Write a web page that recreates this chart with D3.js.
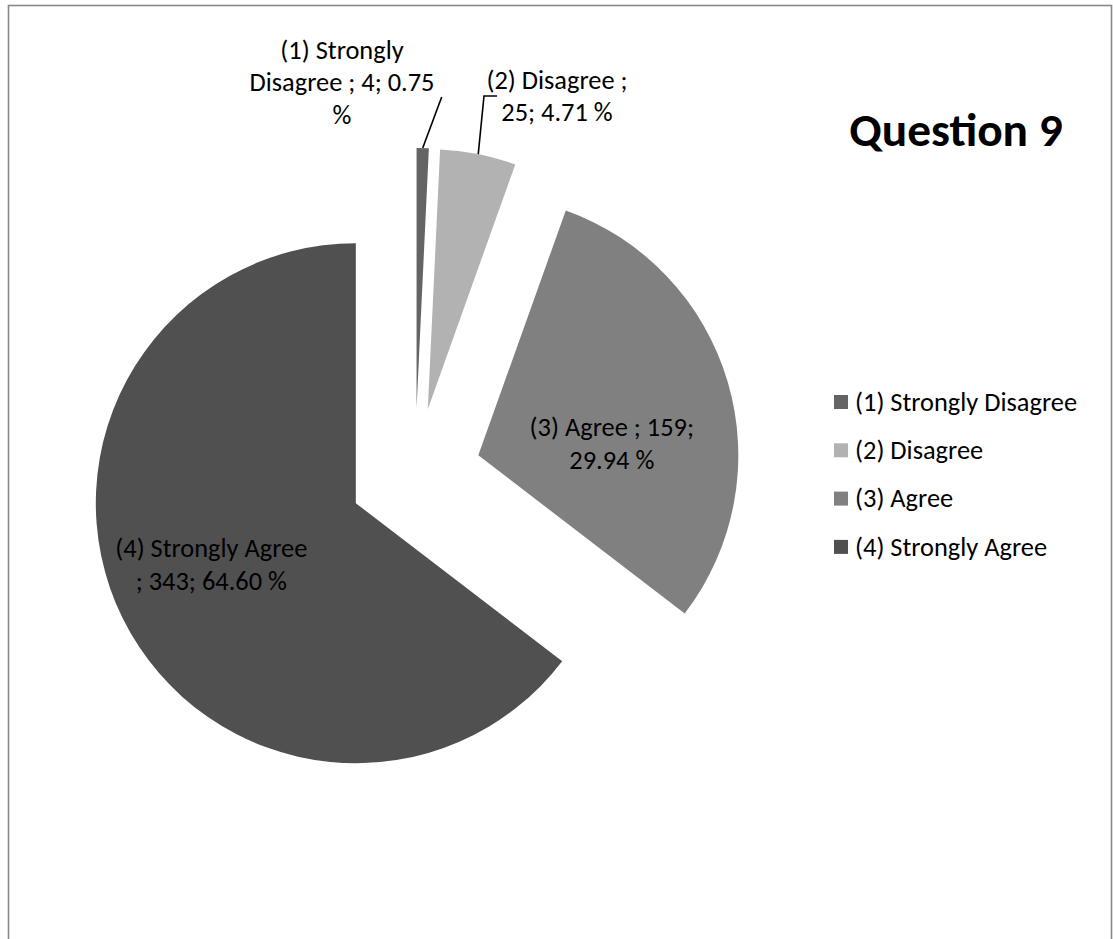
<!DOCTYPE html>
<html>
<head>
<meta charset="utf-8">
<script src="https://cdn.jsdelivr.net/npm/d3@7"></script>
<style>
  html, body { margin: 0; padding: 0; background: #fff; }
  svg { display: block; }
  text { font-family: Carlito, Lato, "Liberation Sans", sans-serif; fill: #000; }
</style>
</head>
<body>
<svg id="chart" width="1113" height="939"></svg>
<script>
// Survey responses for question 9
const categories = ["(1) Strongly Disagree", "(2) Disagree", "(3) Agree", "(4) Strongly Agree"];
const counts = [4, 25, 159, 343];
const title = "Question 9";
// number of words on each wrapped line of a data label
const labelBreaks = [[2, 4, 1], [3, 3], [4, 2], [3, 4]];

const colors = ["#646464", "#b2b2b2", "#808080", "#505050"];

const W = 1113, H = 939;
const cx = 415, cy = 474, R = 260, explode = 66;
const labelFont = 26.4, lineH = 32.5;

const svg = d3.select("#chart");

// chart frame
svg.append("rect")
  .attr("x", 8.5).attr("y", 5.5)
  .attr("width", 1103).attr("height", 960)
  .attr("fill", "#fff").attr("stroke", "#888").attr("stroke-width", 1.6);

const total = d3.sum(counts);
const pie = d3.pie().sort(null).value(d => d).startAngle(0).endAngle(2 * Math.PI);
const arcs = pie(counts);
const arc = d3.arc().innerRadius(0).outerRadius(R);

// offset of each exploded slice along its bisector
const offset = a => {
  const m = (a.startAngle + a.endAngle) / 2;
  return [explode * Math.sin(m), -explode * Math.cos(m)];
};
const polar = (a, ang, r) => {
  const [ox, oy] = offset(a);
  return [cx + ox + r * Math.sin(ang), cy + oy - r * Math.cos(ang)];
};

const g = svg.append("g");
g.selectAll("path.slice").data(arcs).join("path")
  .attr("class", "slice")
  .attr("d", arc)
  .attr("transform", a => { const [ox, oy] = offset(a); return `translate(${cx + ox},${cy + oy})`; })
  .attr("fill", (a, i) => colors[i]);

// data label text
const labelText = arcs.map((a, i) => {
  const pct = (counts[i] / total * 100).toFixed(2) + " %";
  const words = `${categories[i]} ; ${counts[i]}; ${pct}`.split(" ");
  let k = 0;
  return labelBreaks[i].map(n => { const line = words.slice(k, k + n).join(" "); k += n; return line; });
});

// label placement: outside labels with leader lines for the two thin slices,
// inside labels (angle, distance from slice apex) for the large ones
const placement = [
  { x: 342, y: 50, leader: [[441.7, 97]] },
  { x: 557, y: 80, leader: [[484, 96], [497, 96]] },
  { polar: [85 * Math.PI / 180, 134] },
  { polar: [247 * Math.PI / 180, 157] }
];

arcs.forEach((a, i) => {
  const p = placement[i];
  const lines = labelText[i];
  let x, yTop;
  if (p.polar) {
    const [px, py] = polar(a, p.polar[0], p.polar[1]);
    x = px;
    yTop = py - (lines.length - 1) * lineH / 2;
  } else {
    x = p.x; yTop = p.y;
    const m = (a.startAngle + a.endAngle) / 2;
    const start = polar(a, m, R);
    const pts = [start].concat(p.leader);
    svg.append("path")
      .attr("d", d3.line()(pts))
      .attr("fill", "none").attr("stroke", "#000").attr("stroke-width", 1.6);
  }
  const t = svg.append("text")
    .attr("text-anchor", "middle")
    .attr("font-size", labelFont);
  lines.forEach((ln, j) => {
    t.append("tspan").attr("x", x).attr("y", yTop + j * lineH + labelFont * 0.33).text(ln);
  });
});

// title
svg.append("text")
  .attr("x", 956).attr("y", 146)
  .attr("text-anchor", "middle")
  .attr("font-size", 47.4).attr("font-weight", "bold")
  .text(title);

// legend
const legend = svg.append("g").attr("transform", "translate(834,402)");
const rows = legend.selectAll("g").data(categories).join("g")
  .attr("transform", (d, i) => `translate(0,${i * 48.3})`);
rows.append("rect").attr("x", 0).attr("y", -7).attr("width", 14).attr("height", 14)
  .attr("fill", (d, i) => colors[i]);
rows.append("text").attr("x", 21).attr("y", labelFont * 0.33)
  .attr("font-size", labelFont).text(d => d);
</script>
</body>
</html>
